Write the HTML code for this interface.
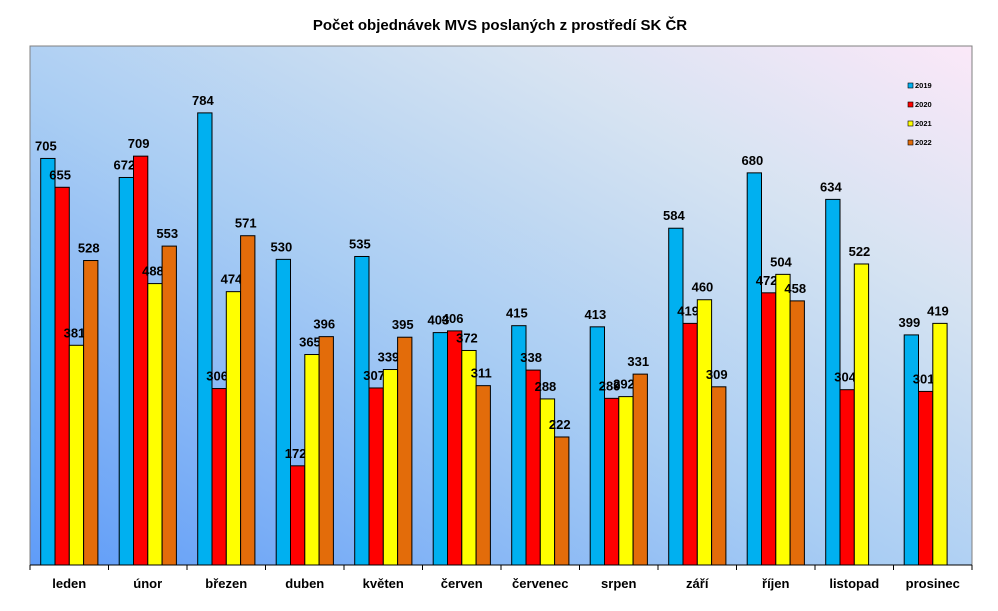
<!DOCTYPE html>
<html><head><meta charset="utf-8"><style>html,body{margin:0;padding:0;background:#fff}</style></head>
<body>
<svg id="c" width="998" height="606" xmlns="http://www.w3.org/2000/svg" font-family="Liberation Sans, Arial, sans-serif">
<defs>
<linearGradient id="g" x1="0" y1="1" x2="1" y2="0">
<stop offset="0" stop-color="#5f9cf8"/>
<stop offset="0.45" stop-color="#a9cdf3"/>
<stop offset="0.75" stop-color="#d6e3f2"/>
<stop offset="1" stop-color="#fbe8f8"/>
</linearGradient>
</defs>
<text x="500" y="30" text-anchor="middle" font-size="15" font-weight="bold">Počet objednávek MVS poslaných z prostředí SK ČR</text>
<rect x="30" y="46" width="942" height="519" fill="url(#g)" stroke="#808080" stroke-width="1"/>
<g id="bars"></g>
<g font-size="7.5" font-weight="bold" fill="#000">
<rect x="908" y="83" width="5" height="5" fill="#00b0f0" stroke="#000" stroke-width="0.6"/><text x="915" y="88">2019</text>
<rect x="908" y="102" width="5" height="5" fill="#ff0000" stroke="#000" stroke-width="0.6"/><text x="915" y="107">2020</text>
<rect x="908" y="121" width="5" height="5" fill="#ffff00" stroke="#000" stroke-width="0.6"/><text x="915" y="126">2021</text>
<rect x="908" y="140" width="5" height="5" fill="#e36c0a" stroke="#000" stroke-width="0.6"/><text x="915" y="145">2022</text>
</g>
</svg>
<script>
var d=[["leden",705,655,381,528],["únor",672,709,488,553],["březen",784,306,474,571],["duben",530,172,365,396],["květen",535,307,339,395],["červen",403,406,372,311],["červenec",415,338,288,222],["srpen",413,289,292,331],["září",584,419,460,309],["říjen",680,472,504,458],["listopad",634,304,522,null],["prosinec",399,301,419,null]];
var col=["#00b0f0","#ff0000","#ffff00","#e36c0a"];
var s="",ns="http://www.w3.org/2000/svg",cw=942/12,bw=14.3;
d.forEach(function(r,i){
 var x0=30+i*cw;
 for(var k=0;k<4;k++){var v=r[k+1];if(v==null)continue;
  var x=x0+10.7+k*bw,y=565-v*519/900;
  s+='<rect x="'+x+'" y="'+y+'" width="'+bw+'" height="'+(565-y)+'" fill="'+col[k]+'" stroke="#000" stroke-width="1"/>';
  s+='<text x="'+(x+bw/2-2)+'" y="'+(y-8)+'" text-anchor="middle" font-size="13" font-weight="bold">'+v+'</text>';}
 s+='<text x="'+(x0+cw/2)+'" y="588" text-anchor="middle" font-size="13" font-weight="bold">'+r[0]+'</text>';
 s+='<line x1="'+x0+'" y1="565" x2="'+x0+'" y2="570" stroke="#000"/>';
});
s+='<line x1="30" y1="565" x2="972" y2="565" stroke="#000"/><line x1="972" y1="565" x2="972" y2="570" stroke="#000"/>';
document.getElementById("bars").innerHTML=s;
</script>
</body></html>
